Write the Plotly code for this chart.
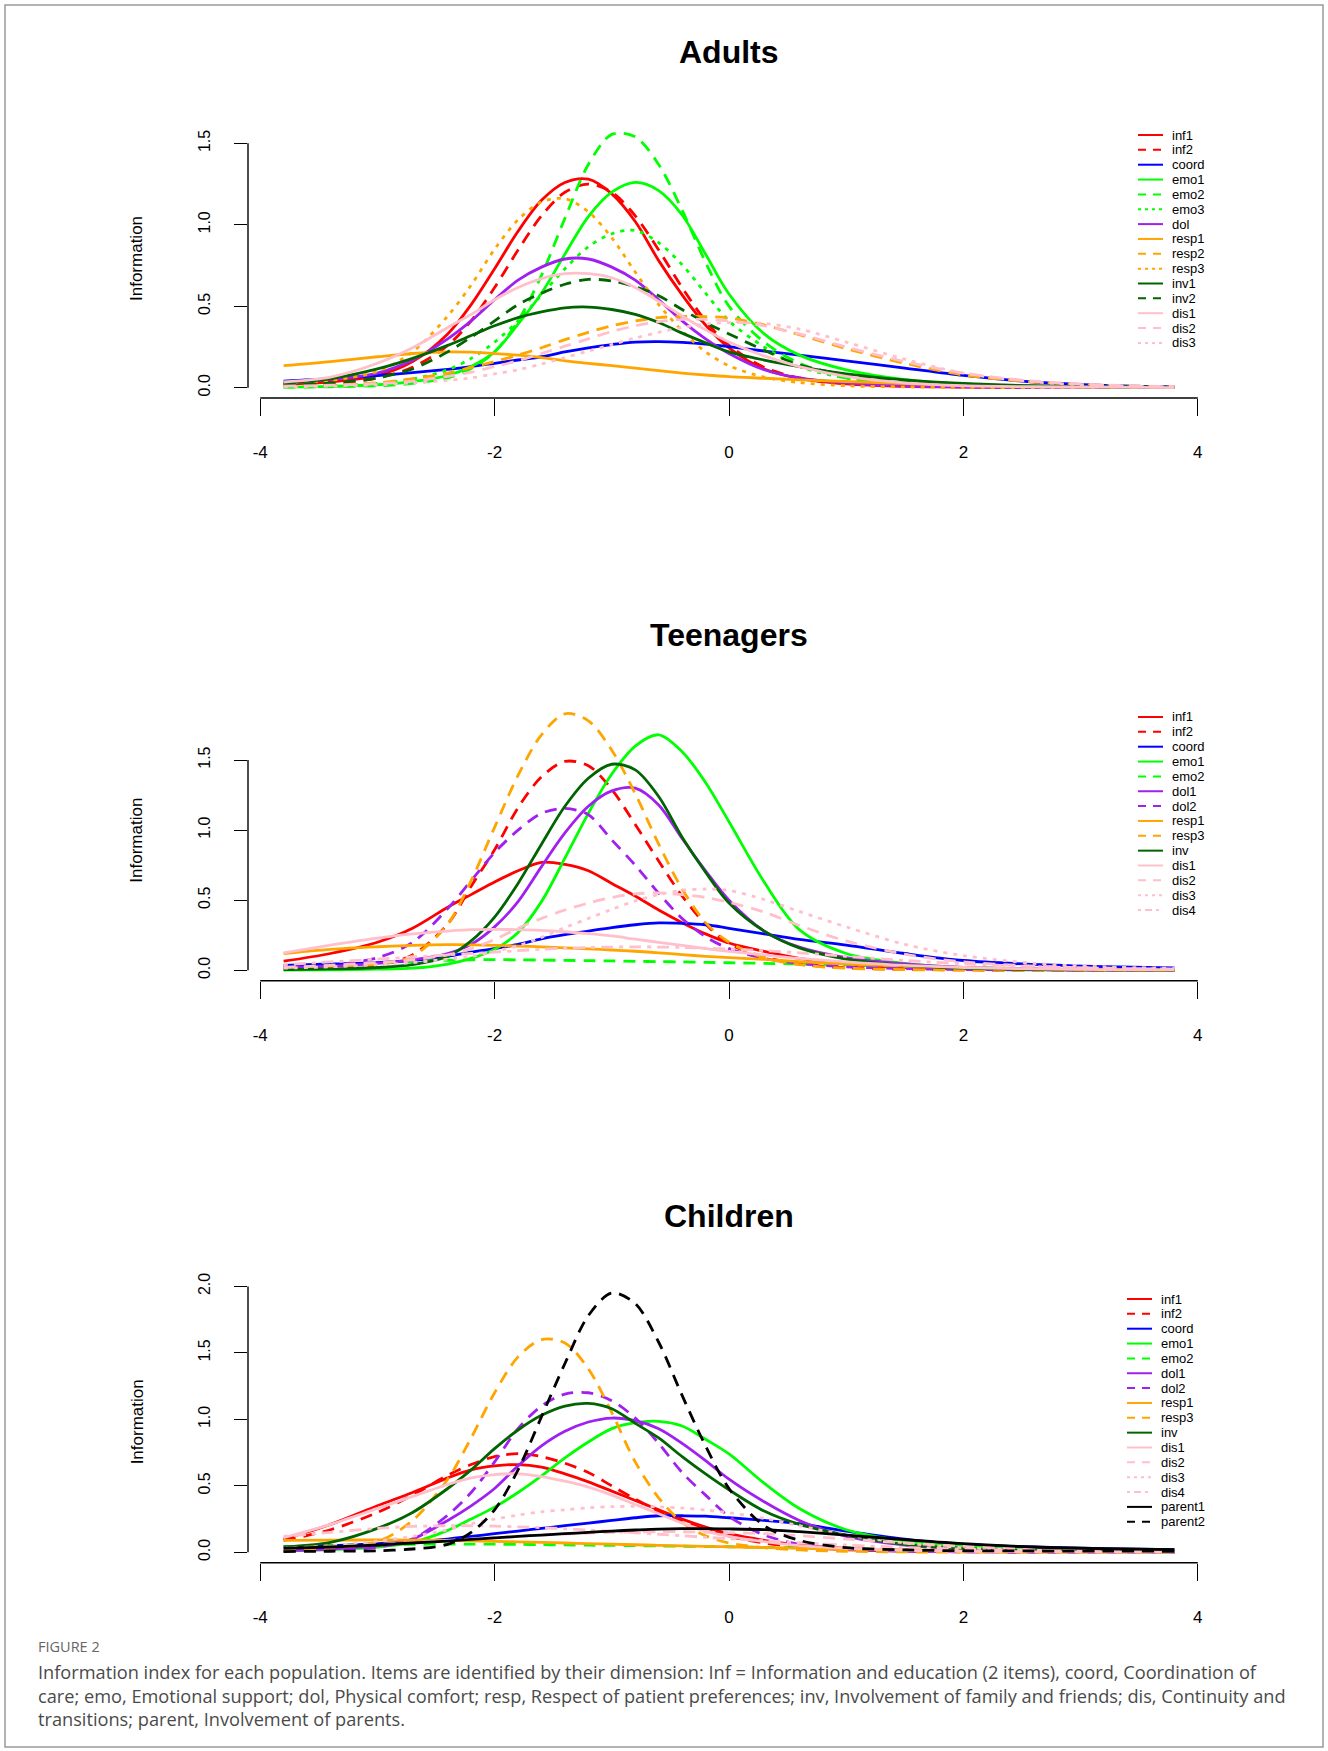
import plotly.graph_objects as go

# ---------------- data ----------------
THETA = [-3.8, -3.4, -3.0, -2.7, -2.4, -2.2, -2.0, -1.8, -1.6, -1.4, -1.2, -1.0, -0.8,
         -0.6, -0.4, -0.2, 0.0, 0.3, 0.6, 1.0, 1.5, 2.0, 2.6, 3.2, 3.8]

X_TICKS = [-4, -2, 0, 2, 4]
X_TICK_TEXT = ["-4", "-2", "0", "2", "4"]
Y_TICKS_15 = [0.0, 0.5, 1.0, 1.5]
Y_TICKS_20 = [0.0, 0.5, 1.0, 1.5, 2.0]
Y_TICK_TEXT = ["0.0", "0.5", "1.0", "1.5", "2.0"]

# Adults
AD_INF1 = [0.025, 0.035, 0.075, 0.16, 0.33, 0.51, 0.73, 0.96, 1.15, 1.26, 1.28, 1.19, 1.02, 0.78, 0.57, 0.385, 0.245, 0.115, 0.057, 0.023, 0.008, 0.004, 0.002, 0.001, 0.0005]
AD_INF2 = [0.02, 0.025, 0.06, 0.125, 0.26, 0.41, 0.615, 0.845, 1.055, 1.2, 1.25, 1.2, 1.055, 0.845, 0.615, 0.41, 0.26, 0.125, 0.06, 0.025, 0.01, 0.005, 0.002, 0.001, 0.0005]
AD_COORD = [0.04, 0.055, 0.075, 0.092, 0.113, 0.13, 0.15, 0.17, 0.19, 0.22, 0.245, 0.265, 0.28, 0.283, 0.278, 0.268, 0.252, 0.225, 0.2, 0.165, 0.12, 0.075, 0.035, 0.014, 0.005]
AD_EMO1 = [0.004, 0.008, 0.018, 0.037, 0.075, 0.13, 0.22, 0.39, 0.58, 0.82, 1.05, 1.2, 1.26, 1.21, 1.06, 0.82, 0.575, 0.33, 0.2, 0.11, 0.05, 0.022, 0.009, 0.004, 0.002]
AD_EMO2 = [0.003, 0.006, 0.012, 0.026, 0.06, 0.118, 0.22, 0.41, 0.69, 1.04, 1.37, 1.555, 1.54, 1.37, 1.09, 0.77, 0.5, 0.28, 0.15, 0.06, 0.02, 0.008, 0.003, 0.001, 0.0005]
AD_EMO3 = [0.006, 0.012, 0.027, 0.053, 0.11, 0.18, 0.28, 0.41, 0.57, 0.73, 0.865, 0.945, 0.965, 0.89, 0.755, 0.58, 0.41, 0.25, 0.13, 0.06, 0.025, 0.01, 0.004, 0.002, 0.001]
AD_DOL = [0.03, 0.05, 0.09, 0.17, 0.30, 0.41, 0.54, 0.66, 0.74, 0.79, 0.79, 0.74, 0.66, 0.54, 0.41, 0.30, 0.21, 0.11, 0.06, 0.03, 0.012, 0.005, 0.002, 0.001, 0.0005]
AD_RESP1 = [0.135, 0.16, 0.19, 0.21, 0.22, 0.218, 0.21, 0.2, 0.185, 0.165, 0.15, 0.135, 0.12, 0.105, 0.09, 0.078, 0.068, 0.058, 0.048, 0.038, 0.025, 0.015, 0.008, 0.004, 0.002]
AD_RESP2 = [0.012, 0.018, 0.03, 0.055, 0.09, 0.125, 0.16, 0.2, 0.245, 0.295, 0.34, 0.38, 0.41, 0.43, 0.438, 0.436, 0.428, 0.385, 0.325, 0.24, 0.15, 0.078, 0.035, 0.014, 0.006]
AD_RESP3 = [0.03, 0.045, 0.10, 0.22, 0.44, 0.63, 0.85, 1.03, 1.14, 1.16, 1.08, 0.92, 0.71, 0.51, 0.35, 0.22, 0.135, 0.065, 0.032, 0.012, 0.005, 0.002, 0.001, 0.001, 0.0005]
AD_INV1 = [0.03, 0.055, 0.115, 0.18, 0.26, 0.32, 0.38, 0.43, 0.465, 0.49, 0.495, 0.48, 0.45, 0.40, 0.335, 0.275, 0.22, 0.17, 0.13, 0.085, 0.048, 0.026, 0.012, 0.006, 0.003]
AD_INV2 = [0.02, 0.028, 0.06, 0.115, 0.22, 0.31, 0.41, 0.51, 0.58, 0.635, 0.665, 0.655, 0.62, 0.565, 0.48, 0.4, 0.33, 0.23, 0.14, 0.08, 0.04, 0.02, 0.009, 0.004, 0.002]
AD_DIS1 = [0.035, 0.065, 0.15, 0.245, 0.37, 0.45, 0.54, 0.615, 0.67, 0.70, 0.70, 0.675, 0.615, 0.53, 0.44, 0.355, 0.28, 0.195, 0.13, 0.07, 0.03, 0.013, 0.006, 0.003, 0.001]
AD_DIS2 = [0.01, 0.015, 0.025, 0.04, 0.07, 0.095, 0.13, 0.165, 0.21, 0.255, 0.3, 0.345, 0.38, 0.405, 0.42, 0.42, 0.41, 0.38, 0.33, 0.25, 0.16, 0.09, 0.04, 0.017, 0.007]
AD_DIS3 = [0.005, 0.01, 0.018, 0.03, 0.045, 0.06, 0.085, 0.11, 0.145, 0.185, 0.225, 0.265, 0.305, 0.34, 0.37, 0.39, 0.4, 0.395, 0.36, 0.28, 0.175, 0.09, 0.036, 0.014, 0.006]

# Teenagers
TE_INF1 = [0.065, 0.12, 0.2, 0.3, 0.45, 0.54, 0.63, 0.71, 0.77, 0.755, 0.71, 0.62, 0.53, 0.43, 0.34, 0.26, 0.195, 0.135, 0.085, 0.045, 0.02, 0.01, 0.005, 0.003, 0.002]
TE_INF2 = [0.01, 0.02, 0.04, 0.11, 0.33, 0.6, 0.86, 1.16, 1.38, 1.49, 1.46, 1.29, 1.04, 0.78, 0.53, 0.33, 0.19, 0.095, 0.045, 0.018, 0.007, 0.003, 0.001, 0.0005, 0.0003]
TE_COORD = [0.035, 0.045, 0.055, 0.07, 0.1, 0.13, 0.155, 0.185, 0.225, 0.255, 0.28, 0.305, 0.325, 0.338, 0.335, 0.325, 0.30, 0.26, 0.22, 0.18, 0.12, 0.07, 0.042, 0.026, 0.017]
TE_EMO1 = [0.002, 0.004, 0.008, 0.015, 0.045, 0.085, 0.15, 0.27, 0.49, 0.8, 1.12, 1.4, 1.6, 1.68, 1.56, 1.34, 1.06, 0.63, 0.29, 0.12, 0.05, 0.02, 0.008, 0.003, 0.001]
TE_EMO2 = [0.02, 0.035, 0.05, 0.062, 0.072, 0.075, 0.076, 0.075, 0.073, 0.071, 0.069, 0.067, 0.064, 0.062, 0.06, 0.057, 0.054, 0.05, 0.045, 0.038, 0.028, 0.02, 0.012, 0.007, 0.004]
TE_DOL1 = [0.02, 0.03, 0.05, 0.075, 0.12, 0.185, 0.31, 0.49, 0.74, 0.98, 1.17, 1.28, 1.3, 1.18, 0.94, 0.71, 0.5, 0.28, 0.165, 0.09, 0.045, 0.02, 0.01, 0.005, 0.003]
TE_DOL2 = [0.02, 0.035, 0.09, 0.2, 0.44, 0.64, 0.84, 1.0, 1.12, 1.155, 1.11, 0.93, 0.75, 0.55, 0.37, 0.24, 0.155, 0.085, 0.05, 0.025, 0.012, 0.006, 0.003, 0.002, 0.001]
TE_RESP1 = [0.12, 0.15, 0.168, 0.178, 0.183, 0.182, 0.178, 0.173, 0.167, 0.16, 0.153, 0.145, 0.136, 0.125, 0.112, 0.1, 0.09, 0.078, 0.062, 0.045, 0.03, 0.018, 0.009, 0.005, 0.003]
TE_RESP3 = [0.01, 0.02, 0.045, 0.1, 0.33, 0.64, 1.02, 1.39, 1.68, 1.83, 1.78, 1.57, 1.26, 0.9, 0.58, 0.34, 0.2, 0.09, 0.04, 0.015, 0.005, 0.002, 0.001, 0.001, 0.0005]
TE_INV = [0.005, 0.01, 0.02, 0.04, 0.1, 0.21, 0.38, 0.62, 0.9, 1.17, 1.37, 1.47, 1.43, 1.24, 0.95, 0.7, 0.48, 0.28, 0.16, 0.08, 0.035, 0.015, 0.006, 0.003, 0.001]
TE_DIS1 = [0.125, 0.18, 0.23, 0.26, 0.28, 0.29, 0.292, 0.29, 0.285, 0.275, 0.262, 0.245, 0.222, 0.2, 0.178, 0.155, 0.135, 0.11, 0.085, 0.06, 0.035, 0.02, 0.01, 0.005, 0.003]
TE_DIS2 = [0.02, 0.035, 0.055, 0.075, 0.11, 0.155, 0.22, 0.3, 0.37, 0.43, 0.48, 0.52, 0.545, 0.552, 0.54, 0.52, 0.485, 0.415, 0.32, 0.21, 0.115, 0.06, 0.03, 0.015, 0.008]
TE_DIS3 = [0.015, 0.025, 0.04, 0.055, 0.08, 0.1, 0.135, 0.175, 0.235, 0.305, 0.37, 0.435, 0.495, 0.54, 0.57, 0.58, 0.57, 0.505, 0.42, 0.31, 0.185, 0.105, 0.05, 0.025, 0.015]
TE_DIS4 = [0.04, 0.06, 0.08, 0.095, 0.11, 0.12, 0.13, 0.14, 0.15, 0.158, 0.163, 0.166, 0.167, 0.166, 0.163, 0.158, 0.152, 0.14, 0.125, 0.1, 0.07, 0.047, 0.027, 0.015, 0.009]

# Children
CH_INF1 = [0.1, 0.21, 0.35, 0.45, 0.56, 0.62, 0.65, 0.66, 0.64, 0.59, 0.53, 0.46, 0.39, 0.32, 0.25, 0.19, 0.14, 0.09, 0.055, 0.03, 0.015, 0.008, 0.004, 0.002, 0.001]
CH_INF2 = [0.09, 0.17, 0.3, 0.43, 0.58, 0.66, 0.72, 0.742, 0.72, 0.67, 0.6, 0.5, 0.4, 0.31, 0.235, 0.17, 0.12, 0.07, 0.04, 0.02, 0.009, 0.004, 0.002, 0.001, 0.0005]
CH_COORD = [0.04, 0.05, 0.065, 0.08, 0.1, 0.12, 0.14, 0.16, 0.18, 0.2, 0.22, 0.24, 0.26, 0.275, 0.275, 0.272, 0.26, 0.24, 0.215, 0.16, 0.1, 0.06, 0.04, 0.028, 0.02]
CH_EMO1 = [0.01, 0.02, 0.04, 0.075, 0.165, 0.25, 0.34, 0.45, 0.575, 0.71, 0.83, 0.93, 0.975, 0.985, 0.95, 0.85, 0.74, 0.52, 0.33, 0.17, 0.085, 0.045, 0.02, 0.01, 0.005]
CH_EMO2 = [0.04, 0.05, 0.057, 0.06, 0.062, 0.062, 0.061, 0.06, 0.058, 0.056, 0.054, 0.052, 0.05, 0.048, 0.046, 0.044, 0.042, 0.038, 0.034, 0.028, 0.02, 0.014, 0.008, 0.005, 0.003]
CH_DOL1 = [0.012, 0.025, 0.05, 0.1, 0.24, 0.35, 0.48, 0.65, 0.8, 0.91, 0.98, 1.01, 0.99, 0.93, 0.82, 0.69, 0.55, 0.38, 0.24, 0.12, 0.055, 0.025, 0.01, 0.005, 0.002]
CH_DOL2 = [0.01, 0.02, 0.04, 0.1, 0.28, 0.45, 0.68, 0.93, 1.1, 1.19, 1.2, 1.14, 1.01, 0.82, 0.6, 0.43, 0.27, 0.13, 0.06, 0.025, 0.01, 0.004, 0.002, 0.001, 0.0005]
CH_RESP1 = [0.09, 0.092, 0.093, 0.092, 0.09, 0.087, 0.083, 0.079, 0.075, 0.07, 0.066, 0.061, 0.057, 0.053, 0.049, 0.045, 0.041, 0.036, 0.031, 0.025, 0.019, 0.014, 0.009, 0.006, 0.004]
CH_RESP3 = [0.02, 0.035, 0.08, 0.24, 0.55, 0.86, 1.2, 1.47, 1.6, 1.575, 1.38, 1.05, 0.68, 0.41, 0.225, 0.125, 0.07, 0.035, 0.018, 0.008, 0.003, 0.001, 0.0005, 0.0005, 0.0005]
CH_INV = [0.04, 0.075, 0.18, 0.3, 0.48, 0.62, 0.78, 0.92, 1.03, 1.1, 1.12, 1.08, 0.97, 0.86, 0.72, 0.59, 0.47, 0.31, 0.21, 0.13, 0.06, 0.03, 0.012, 0.006, 0.003]
CH_DIS1 = [0.11, 0.21, 0.33, 0.42, 0.51, 0.56, 0.585, 0.59, 0.57, 0.535, 0.49, 0.43, 0.36, 0.29, 0.22, 0.16, 0.12, 0.08, 0.05, 0.03, 0.015, 0.008, 0.004, 0.002, 0.001]
CH_DIS2 = [0.03, 0.045, 0.06, 0.075, 0.09, 0.1, 0.11, 0.12, 0.13, 0.138, 0.145, 0.15, 0.153, 0.155, 0.155, 0.152, 0.148, 0.14, 0.125, 0.1, 0.07, 0.045, 0.025, 0.014, 0.008]
CH_DIS3 = [0.03, 0.05, 0.085, 0.12, 0.17, 0.215, 0.25, 0.28, 0.305, 0.32, 0.335, 0.343, 0.346, 0.342, 0.333, 0.318, 0.298, 0.255, 0.2, 0.13, 0.07, 0.035, 0.015, 0.007, 0.003]
CH_DIS4 = [0.12, 0.15, 0.18, 0.195, 0.2, 0.2, 0.197, 0.192, 0.185, 0.177, 0.168, 0.158, 0.147, 0.136, 0.125, 0.113, 0.102, 0.087, 0.072, 0.055, 0.037, 0.024, 0.014, 0.008, 0.005]
CH_PARENT1 = [0.03, 0.04, 0.055, 0.07, 0.085, 0.097, 0.108, 0.12, 0.13, 0.14, 0.15, 0.16, 0.168, 0.175, 0.178, 0.178, 0.176, 0.17, 0.155, 0.13, 0.095, 0.065, 0.04, 0.027, 0.02]
CH_PARENT2 = [0.006, 0.008, 0.012, 0.025, 0.06, 0.15, 0.32, 0.62, 1.02, 1.42, 1.78, 1.95, 1.87, 1.58, 1.18, 0.8, 0.48, 0.2, 0.09, 0.035, 0.018, 0.012, 0.01, 0.009, 0.008]

ADULT_NAMES = ["inf1", "inf2", "coord", "emo1", "emo2", "emo3", "dol", "resp1", "resp2", "resp3",
               "inv1", "inv2", "dis1", "dis2", "dis3"]
ADULT_SERIES = [AD_INF1, AD_INF2, AD_COORD, AD_EMO1, AD_EMO2, AD_EMO3, AD_DOL, AD_RESP1, AD_RESP2,
                AD_RESP3, AD_INV1, AD_INV2, AD_DIS1, AD_DIS2, AD_DIS3]
TEEN_NAMES = ["inf1", "inf2", "coord", "emo1", "emo2", "dol1", "dol2", "resp1", "resp3", "inv",
              "dis1", "dis2", "dis3", "dis4"]
TEEN_SERIES = [TE_INF1, TE_INF2, TE_COORD, TE_EMO1, TE_EMO2, TE_DOL1, TE_DOL2, TE_RESP1, TE_RESP3,
               TE_INV, TE_DIS1, TE_DIS2, TE_DIS3, TE_DIS4]
CHILD_NAMES = TEEN_NAMES + ["parent1", "parent2"]
CHILD_SERIES = [CH_INF1, CH_INF2, CH_COORD, CH_EMO1, CH_EMO2, CH_DOL1, CH_DOL2, CH_RESP1, CH_RESP3,
                CH_INV, CH_DIS1, CH_DIS2, CH_DIS3, CH_DIS4, CH_PARENT1, CH_PARENT2]

TITLES = ["Adults", "Teenagers", "Children"]
CAPTION_HEAD = "FIGURE 2"
CAPTION_LINES = [
    "Information index for each population. Items are identified by their dimension: Inf = Information and education (2 items), coord, Coordination of",
    "care; emo, Emotional support; dol, Physical comfort; resp, Respect of patient preferences; inv, Involvement of family and friends; dis, Continuity and",
    "transitions; parent, Involvement of parents.",
]

# ---------------- styles ----------------
RED, BLUE, GREEN, PURPLE = "#FF0000", "#0000FF", "#00FF00", "#A020F0"
ORANGE, DKGREEN, PINK, BLACK = "#FFA500", "#006400", "#FFC0CB", "#000000"
ADULT_STYLE = [(RED, "solid"), (RED, "dash"), (BLUE, "solid"), (GREEN, "solid"), (GREEN, "dash"),
               (GREEN, "dot"), (PURPLE, "solid"), (ORANGE, "solid"), (ORANGE, "dash"), (ORANGE, "dot"),
               (DKGREEN, "solid"), (DKGREEN, "dash"), (PINK, "solid"), (PINK, "dash"), (PINK, "dot")]
TEEN_STYLE = [(RED, "solid"), (RED, "dash"), (BLUE, "solid"), (GREEN, "solid"), (GREEN, "dash"),
              (PURPLE, "solid"), (PURPLE, "dash"), (ORANGE, "solid"), (ORANGE, "dash"),
              (DKGREEN, "solid"), (PINK, "solid"), (PINK, "dash"), (PINK, "dot"), (PINK, "dotdash")]
CHILD_STYLE = TEEN_STYLE + [(BLACK, "solid"), (BLACK, "dash")]

DATA_DASH = {"solid": "solid", "dash": "12px,8px", "dot": "4px,6px", "dotdash": "4px,6px,12px,6px"}
LEG_DASH = {"solid": "solid", "dash": "8px,7px", "dot": "3px,4px", "dotdash": "3px,4px,7px,4px"}

W, H = 1328, 1751
FONT = "Liberation Sans, Arial, sans-serif"
CAP_FONT = "Open Sans, sans-serif"


def fx(p):
    return p / W


def fy(p):
    return 1 - p / H


PANELS = [
    dict(names=ADULT_NAMES, series=ADULT_SERIES, style=ADULT_STYLE, top=120, bottom=398,
         yr=[-0.0632, 1.6432], yt=Y_TICKS_15, title_y=52, leg_y=135, leg_x=1138),
    dict(names=TEEN_NAMES, series=TEEN_SERIES, style=TEEN_STYLE, top=700.6, bottom=980.7,
         yr=[-0.074, 1.924], yt=Y_TICKS_15, title_y=635, leg_y=717, leg_x=1138),
    dict(names=CHILD_NAMES, series=CHILD_SERIES, style=CHILD_STYLE, top=1282, bottom=1562.7,
         yr=[-0.078, 2.033], yt=Y_TICKS_20, title_y=1216, leg_y=1299, leg_x=1127),
]
LEFT, RIGHT = 248, 1210
LEG_STEP = 14.85

fig = go.Figure()
shapes, annotations = [], []

for i, P in enumerate(PANELS):
    sfx = "" if i == 0 else str(i + 1)
    xa, ya = "x" + sfx, "y" + sfx
    for name, vals, (col, dsh) in zip(P["names"], P["series"], P["style"]):
        fig.add_trace(go.Scatter(
            x=THETA, y=vals, mode="lines", name=name, showlegend=False, hoverinfo="skip",
            line=dict(color=col, width=2.8, dash=DATA_DASH[dsh], shape="spline", smoothing=0.9),
            xaxis=xa, yaxis=ya))

    fig.update_layout(**{
        "xaxis" + sfx: dict(
            domain=[fx(LEFT), fx(RIGHT)], range=[-4.104, 4.104], anchor=ya, automargin=False,
            tickvals=X_TICKS, ticktext=X_TICK_TEXT, ticks="outside", ticklen=17, tickwidth=1.4,
            tickcolor="black", showgrid=False, zeroline=False, showline=False,
            tickfont=dict(family=FONT, size=17, color="black"), ticklabelstandoff=22),
        "yaxis" + sfx: dict(
            domain=[fy(P["bottom"]), fy(P["top"])], range=P["yr"], anchor=xa, automargin=False,
            tickvals=P["yt"], ticktext=Y_TICK_TEXT[:len(P["yt"])], ticks="outside", ticklen=13,
            tickwidth=1.4, tickcolor="black", tickangle=-90, showgrid=False, zeroline=False,
            showline=False, tickfont=dict(family=FONT, size=16, color="black"),
            ticklabelstandoff=18),
    })

    shapes.append(dict(type="line", xref=xa, yref=ya + " domain", x0=X_TICKS[0], x1=X_TICKS[-1],
                       y0=0, y1=0, line=dict(color="black", width=1.4)))
    shapes.append(dict(type="line", xref=xa + " domain", yref=ya, x0=0, x1=0,
                       y0=P["yt"][0], y1=P["yt"][-1], line=dict(color="black", width=1.4)))

    annotations.append(dict(text="<b>%s</b>" % TITLES[i], xref="paper", yref="paper",
                            x=fx((LEFT + RIGHT) / 2), y=fy(P["title_y"]), xanchor="center",
                            yanchor="middle", showarrow=False,
                            font=dict(family=FONT, size=32, color="black")))
    annotations.append(dict(text="Information", xref="paper", yref="paper", x=fx(137),
                            y=fy((P["top"] + P["bottom"]) / 2), textangle=-90, xanchor="center",
                            yanchor="middle", showarrow=False,
                            font=dict(family=FONT, size=17, color="black")))

    for k, (name, (col, dsh)) in enumerate(zip(P["names"], P["style"])):
        yy = P["leg_y"] + k * LEG_STEP
        shapes.append(dict(type="line", xref="paper", yref="paper", x0=fx(P["leg_x"]),
                           x1=fx(P["leg_x"] + 25), y0=fy(yy), y1=fy(yy),
                           line=dict(color=col, width=2, dash=LEG_DASH[dsh])))
        annotations.append(dict(text=name, xref="paper", yref="paper", x=fx(P["leg_x"] + 32),
                                y=fy(yy), xanchor="left", yanchor="middle", showarrow=False,
                                font=dict(family=FONT, size=13, color="black")))

annotations.append(dict(text=CAPTION_HEAD, xref="paper", yref="paper", x=fx(36), y=fy(1646),
                        xanchor="left", yanchor="middle", showarrow=False,
                        font=dict(family=CAP_FONT, size=14.5, color="#666666")))
for j, line in enumerate(CAPTION_LINES):
    annotations.append(dict(text=line, xref="paper", yref="paper", x=fx(36), y=fy(1672 + j * 23.5),
                            xanchor="left", yanchor="middle", showarrow=False,
                            font=dict(family=CAP_FONT, size=18.2, color="#4a4a4a")))

shapes.append(dict(type="rect", xref="paper", yref="paper", x0=fx(5), x1=fx(1323), y0=fy(5),
                   y1=fy(1747), line=dict(color="#999999", width=1.5)))

fig.update_layout(width=W, height=H, margin=dict(l=0, r=0, t=0, b=0, pad=0, autoexpand=False),
                  paper_bgcolor="white", plot_bgcolor="white", showlegend=False,
                  shapes=shapes, annotations=annotations)

fig.write_html("out.html")
